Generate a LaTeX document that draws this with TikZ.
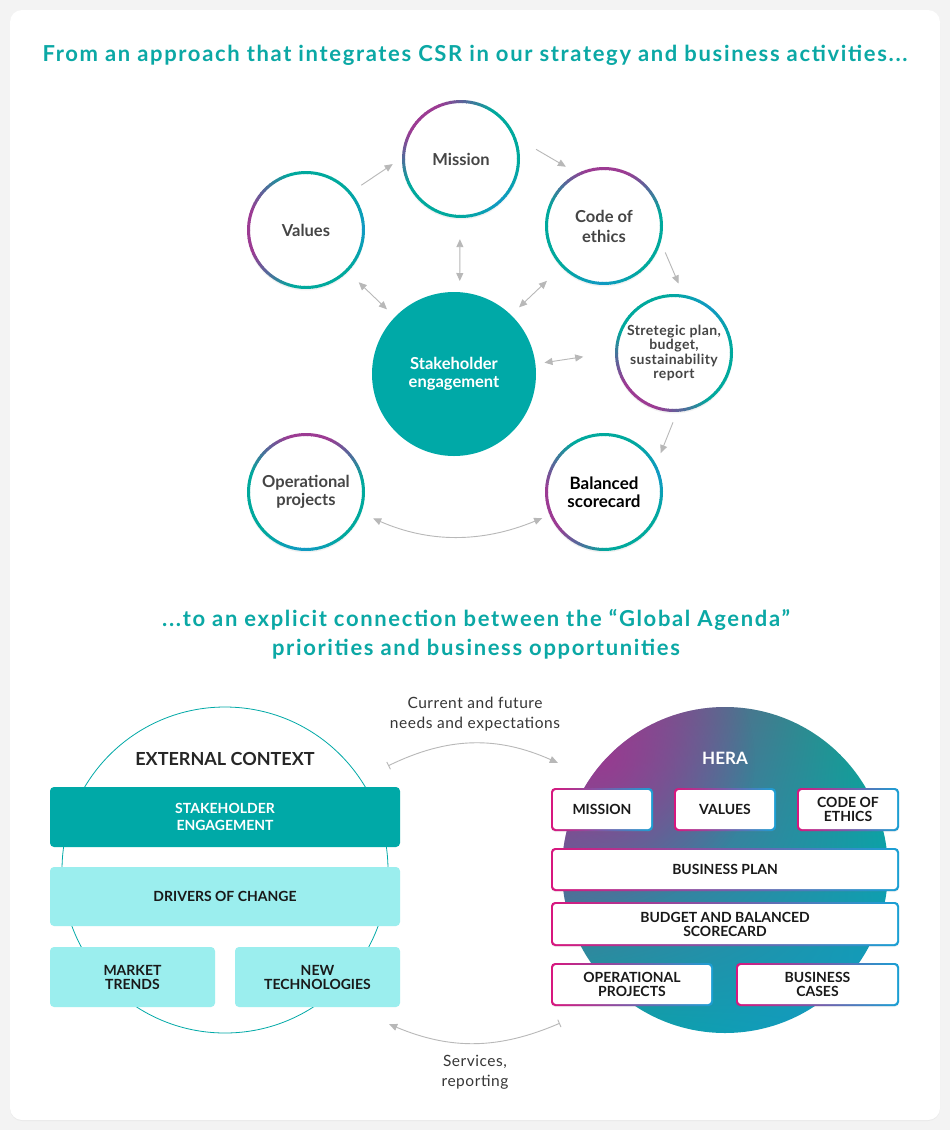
\documentclass[tikz,border=0pt]{standalone}
\usepackage{fontspec}
\setmainfont{Lato}
\usetikzlibrary{arrows.meta,shadows,calc,shadings,fadings}
\tikzfading[name=hfade, inner color=transparent!0, outer color=transparent!100]
\definecolor{cpurple}{HTML}{9C3B93}
\definecolor{cslate}{HTML}{58669A}
\definecolor{cteal}{HTML}{00A99D}
\definecolor{cblue}{HTML}{1199C4}
\definecolor{tealfill}{HTML}{00A9A7}
\definecolor{lightcyan}{HTML}{9BEEEE}
\definecolor{titleteal}{HTML}{0BA8A5}
\definecolor{arrgray}{HTML}{B8B8B8}
\definecolor{cmag}{HTML}{D8177E}
\definecolor{bblue}{HTML}{1AA0D4}
\definecolor{dgray}{HTML}{454545}
\definecolor{bggray}{HTML}{F3F3F3}
\definecolor{hpurple}{HTML}{A0358F}
\definecolor{hteal}{HTML}{06A88E}
\definecolor{hteal2}{HTML}{0AA3A0}
\definecolor{hblue}{HTML}{1598C8}
\newcommand\gradring[2]{%
  \foreach \a in {0,4,...,356}{%
    \pgfmathsetmacro\dd{abs(mod(\a-#2+540,360)-180)}%
    \ifdim\dd pt<20pt \colorlet{rc}{cpurple}%
    \else\ifdim\dd pt<45pt \pgfmathsetmacro\pp{(\dd-20)*4}\colorlet{rc}{cslate!\pp!cpurple}%
    \else\ifdim\dd pt<75pt \pgfmathsetmacro\pp{(\dd-45)*10/3}\colorlet{rc}{cteal!\pp!cslate}%
    \else\ifdim\dd pt<135pt \colorlet{rc}{cteal}%
    \else \pgfmathsetmacro\pp{(\dd-135)*20/9}\colorlet{rc}{cblue!\pp!cteal}%
    \fi\fi\fi\fi
    \draw[rc, line width=3pt] ($(#1.center)+(\a:57.5pt)$) arc[start angle=\a, end angle=\a+4.6, radius=57.5pt];
  }}
\begin{document}
\begin{tikzpicture}[x=1pt,y=-1pt,
  title/.style={font=\fontsize{22}{29}\selectfont\bfseries\addfontfeatures{LetterSpace=7.5}, text=titleteal, align=center, inner sep=0pt},
  ring/.style={circle, fill=white, minimum size=118pt, inner sep=0pt, align=center, text=dgray,
    font=\fontsize{16.5}{20}\selectfont\bfseries,
    drop shadow={opacity=0.10, shadow xshift=0pt, shadow yshift=-1.5pt}},
  arr/.style={draw=arrgray, line width=0.9pt, -{Triangle[length=8pt,width=7pt]}},
  darr/.style={draw=arrgray, line width=0.9pt, {Triangle[length=8pt,width=7pt]}-{Triangle[length=8pt,width=7pt]}},
  barr/.style={draw=arrgray, line width=0.9pt, {Bar[width=8pt]}-{Triangle[length=8pt,width=7pt]}},
  lbl/.style={font=\fontsize{15.5}{20}\selectfont\addfontfeatures{LetterSpace=3.5}, text=dgray!80!black, align=center, inner sep=0pt},
  lbox/.style={rounded corners=4pt, inner sep=0pt, align=center,
    font=\fontsize{14}{14}\selectfont\bfseries, text=black!90},
  hbox/.style={rounded corners=4pt, inner sep=0pt, align=center,
    font=\fontsize{14}{14}\selectfont\bfseries, text=black!90,
    drop shadow={opacity=0.10, shadow xshift=0pt, shadow yshift=-1pt},
    path picture={\shade[left color=cmag, right color=bblue]
      (path picture bounding box.south west) rectangle (path picture bounding box.north east);
      \fill[white, rounded corners=3pt] ([shift={(2pt,2pt)}]path picture bounding box.south west)
        rectangle ([shift={(-2pt,-2pt)}]path picture bounding box.north east);}}
]
\useasboundingbox (0,0) rectangle (950,1130);
\fill[bggray] (0,0) rectangle (950,1130);
\fill[white, rounded corners=12pt, drop shadow={opacity=0.08, shadow xshift=0pt, shadow yshift=-1pt}] (10,10) rectangle (940,1120);

% titles
\node[title] (t1) at (475,55) {From an approach that integrates CSR in our strategy and business activities...};
\node[title] (t2) at (476,634.5) {...to an explicit connection between the “Global Agenda”\\priorities and business opportunities};

% top circles
\node[ring] (values) at (306,230) {Values};
\node[ring] (mission) at (461,159) {Mission};
\node[ring] (code) at (604,226) {Code of\\ethics};
\node[ring, font=\fontsize{14}{14.3}\selectfont\bfseries\addfontfeatures{LetterSpace=3}] (strat) at (674,353) {Stretegic plan,\\budget,\\sustainability\\report};
\node[ring, font=\fontsize{16.5}{17.5}\selectfont\bfseries] (op) at (306,492) {Operational\\projects};
\node[ring, text=black, font=\fontsize{17}{17.5}\selectfont\bfseries] (bal) at (604,492) {Balanced\\scorecard};
\node[circle, fill=tealfill, minimum size=164pt, inner sep=0pt, text=white, align=center,
  font=\fontsize{16.5}{18}\selectfont\bfseries] (stake) at (454,374) {Stakeholder\\engagement};
\gradring{values}{180}
\gradring{mission}{130}
\gradring{code}{85}
\gradring{strat}{230}
\gradring{op}{85}
\gradring{bal}{195}

% top arrows
\draw[arr, shorten <=12pt, shorten >=11pt] (values.40) -- (mission.179);
\draw[arr, shorten <=23pt, shorten >=13pt] (mission.21) -- (code.117);
\draw[arr, shorten <=11pt, shorten >=12pt] (code.-16) -- (strat.81);
\draw[arr, shorten <=11pt, shorten >=12pt] (strat.-87) -- (bal.28);
\draw[darr, shorten <=21pt, shorten >=11pt] (mission.-91) -- (stake.86);
\draw[darr, shorten <=15pt, shorten >=11pt] (values.-45) -- (stake.136);
\draw[darr, shorten <=20pt, shorten >=11pt] (code.224) -- (stake.46);
\draw[darr, shorten <=9pt, shorten >=32pt] (stake.7) -- (strat.179);
\draw[darr, shorten <=13pt, shorten >=8pt] (op.-21) to[bend right=23] (bal.203);

% bottom left
\node[circle, draw=tealfill, line width=0.8pt, minimum size=326pt, inner sep=0pt] (ext) at (225,870) {};
\node[font=\fontsize{18}{20}\selectfont\bfseries, text=black!85, inner sep=0pt] (extlbl) at (225,759) {EXTERNAL CONTEXT};
\node[lbox, fill=tealfill, text=white, minimum width=350pt, minimum height=60pt, font=\fontsize{14}{17}\selectfont\bfseries] (stk) at (225,817) {STAKEHOLDER\\ENGAGEMENT};
\node[lbox, fill=lightcyan, minimum width=350pt, minimum height=59pt] (drv) at (225,896.5) {DRIVERS OF CHANGE};
\node[lbox, fill=lightcyan, minimum width=165pt, minimum height=60pt] (mkt) at (132.5,977) {MARKET\\TRENDS};
\node[lbox, fill=lightcyan, minimum width=165pt, minimum height=60pt] (newt) at (317.5,977) {NEW\\TECHNOLOGIES};

% bottom right
\node[circle, minimum size=326pt, inner sep=0pt,
  path picture={\shade[upper left=hpurple, upper right=hteal, lower left=hteal2, lower right=hblue]
    (path picture bounding box.south west) rectangle (path picture bounding box.north east);
    \fill[hpurple, opacity=0.75, path fading=hfade] ([shift={(-120pt,110pt)}]path picture bounding box.center) circle (150pt);}] (hera) at (725,870) {};
\node[font=\fontsize{17}{20}\selectfont\bfseries, text=white, inner sep=0pt] (heralbl) at (725,758) {HERA};
\node[hbox, minimum width=102pt, minimum height=43pt] (mission2) at (602,809.5) {MISSION};
\node[hbox, minimum width=102pt, minimum height=43pt] (values2) at (725,809.5) {VALUES};
\node[hbox, minimum width=102pt, minimum height=43pt] (code2) at (848,809.5) {CODE OF\\ETHICS};
\node[hbox, minimum width=348pt, minimum height=43pt] (bplan) at (725,869.5) {BUSINESS PLAN};
\node[hbox, minimum width=348pt, minimum height=44pt] (budget) at (725,924) {BUDGET AND BALANCED\\SCORECARD};
\node[hbox, minimum width=162pt, minimum height=43pt] (opp) at (632,984.5) {OPERATIONAL\\PROJECTS};
\node[hbox, minimum width=163pt, minimum height=43pt] (bcases) at (817.5,984.5) {BUSINESS\\CASES};

% bottom arrows and labels
\draw[barr] ([xshift=-12pt,yshift=21pt]stk.north east) to[bend left=25] ([xshift=7pt,yshift=25pt]mission2.north west);
\draw[barr] ([xshift=9pt,yshift=-17pt]opp.south west) to[bend left=23] ([xshift=-11pt,yshift=-17pt]newt.south east);
\node[lbl] (lab1) at (475,714) {Current and future\\needs and expectations};
\node[lbl] (lab2) at (475,1072) {Services,\\reporting};
\end{tikzpicture}
\end{document}
